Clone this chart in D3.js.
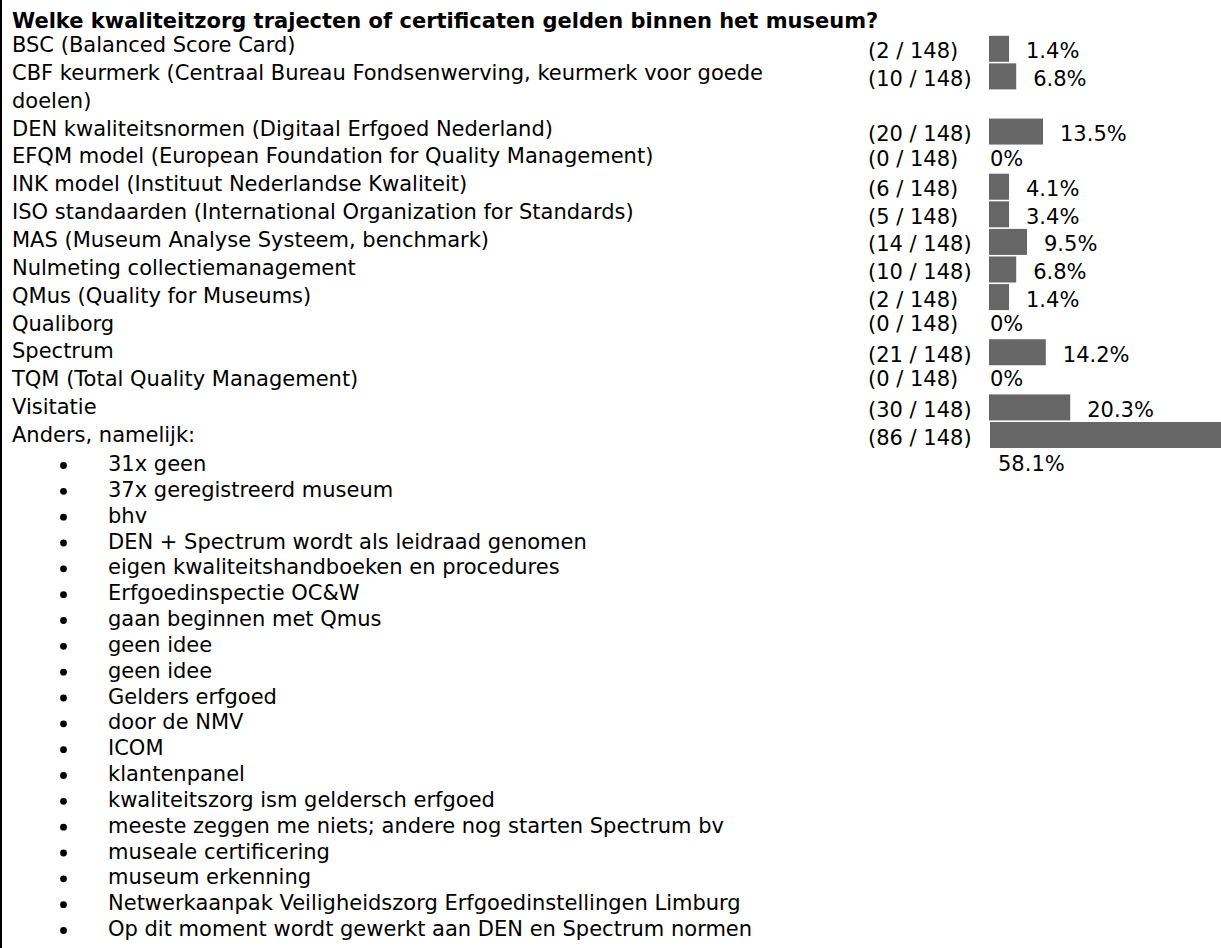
<!DOCTYPE html>
<html>
<head>
<meta charset="utf-8">
<script src="https://cdn.jsdelivr.net/npm/d3@7"></script>
<style>
body { margin: 0; background: #fff; }
svg text { font-family: Verdana, "DejaVu Sans", sans-serif; font-size: 21px; fill: #000; }
svg text.title { font-weight: bold; }
svg rect.bar { fill: #666666; }
</style>
</head>
<body>
<div class="wrapper-svg"></div>
<script>
var title = 'Welke kwaliteitzorg trajecten of certificaten gelden binnen het museum?';

var options = [
    'BSC (Balanced Score Card)',
    'CBF keurmerk (Centraal Bureau Fondsenwerving, keurmerk voor goede\ndoelen)',
    'DEN kwaliteitsnormen (Digitaal Erfgoed Nederland)',
    'EFQM model (European Foundation for Quality Management)',
    'INK model (Instituut Nederlandse Kwaliteit)',
    'ISO standaarden (International Organization for Standards)',
    'MAS (Museum Analyse Systeem, benchmark)',
    'Nulmeting collectiemanagement',
    'QMus (Quality for Museums)',
    'Qualiborg',
    'Spectrum',
    'TQM (Total Quality Management)',
    'Visitatie',
    'Anders, namelijk:'
];

var counts = [2, 10, 20, 0, 6, 5, 14, 10, 2, 0, 21, 0, 30, 86];
var total = 148;
var percents = [1.4, 6.8, 13.5, 0, 4.1, 3.4, 9.5, 6.8, 1.4, 0, 14.2, 0, 20.3, 58.1];

var others = [
    '31x geen',
    '37x geregistreerd museum',
    'bhv',
    'DEN + Spectrum wordt als leidraad genomen',
    'eigen kwaliteitshandboeken en procedures',
    'Erfgoedinspectie OC&W',
    'gaan beginnen met Qmus',
    'geen idee',
    'geen idee',
    'Gelders erfgoed',
    'door de NMV',
    'ICOM',
    'klantenpanel',
    'kwaliteitszorg ism geldersch erfgoed',
    'meeste zeggen me niets; andere nog starten Spectrum bv',
    'museale certificering',
    'museum erkenning',
    'Netwerkaanpak Veiligheidszorg Erfgoedinstellingen Limburg',
    'Op dit moment wordt gewerkt aan DEN en Spectrum normen'
];

var W = 1221, H = 948;

var svg = d3.select('.wrapper-svg')
    .append('svg')
    .attr('width', W)
    .attr('height', H);

// linker rand van de tabel
svg.append('line')
    .attr('x1', 1).attr('x2', 1)
    .attr('y1', 0).attr('y2', H)
    .attr('stroke', '#000')
    .attr('stroke-width', 2);

svg.append('text')
    .classed('title', true)
    .text(title)
    .attr('x', 12)
    .attr('y', 28);

// regelnummer per antwoord (CBF beslaat twee regels)
var lineIndex = [];
var n = 0;
options.forEach(function(o) {
    lineIndex.push(n);
    n += o.split('\n').length;
});

var labelY = d3.scaleLinear().domain([0, 14]).range([52, 442]);
var valueY = d3.scaleLinear().domain([0, 14]).range([58.3, 444.5]);
var x = d3.scaleLinear().domain([0, 100]).range([0, 400]);
var barX = 989;
var countX = 868;

options.forEach(function(o, i) {
    var lines = o.split('\n');
    var t = svg.append('text').attr('x', 12).attr('y', labelY(lineIndex[i]));
    lines.forEach(function(l, k) {
        t.append('tspan')
            .attr('x', 12)
            .attr('y', labelY(lineIndex[i] + k))
            .text(l);
    });

    var base = valueY(lineIndex[i]) + (counts[i] === 0 ? -3 : 0);

    svg.append('text')
        .text('(' + counts[i] + ' / ' + total + ')')
        .attr('x', countX)
        .attr('y', base);

    var pctText = percents[i] === 0 ? '0%' : percents[i].toFixed(1) + '%';

    if (counts[i] === 0) {
        svg.append('text').text(pctText).attr('x', barX + 1).attr('y', base);
        return;
    }

    var w = Math.max(20, x(percents[i]));
    var bx = i === options.length - 1 ? barX + 1 : barX;
    svg.append('rect')
        .classed('bar', true)
        .attr('x', bx)
        .attr('y', base - 22.5)
        .attr('width', w)
        .attr('height', 26);

    var lbl = svg.append('text').text(pctText).attr('x', bx + w + 17).attr('y', base);
    if (bx + w + 17 + lbl.node().getComputedTextLength() > W) {
        // past niet meer: naar de volgende regel
        lbl.attr('x', barX + 9).attr('y', valueY(lineIndex[i] + 1) - 1.5);
    }
});

var bulletY = d3.scaleLinear().domain([0, others.length - 1]).range([471, 936]);

others.forEach(function(o, i) {
    svg.append('circle')
        .attr('cx', 63.5)
        .attr('cy', bulletY(i) - 5.5)
        .attr('r', 3.4)
        .attr('fill', '#000');

    svg.append('text')
        .text(o)
        .attr('x', 108)
        .attr('y', bulletY(i));
});
</script>
</body>
</html>
